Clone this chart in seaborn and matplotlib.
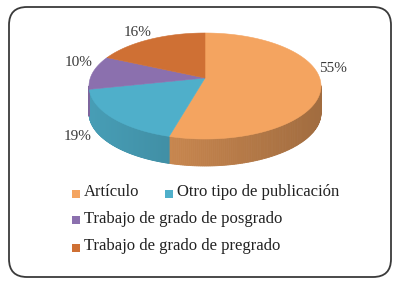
import numpy as np
import matplotlib
matplotlib.use("Agg")
import matplotlib.pyplot as plt
from matplotlib.patches import Polygon, FancyBboxPatch
import seaborn as sns

# --- datos ---
categorias = ["Artículo", "Otro tipo de publicación",
              "Trabajo de grado de posgrado", "Trabajo de grado de pregrado"]
porcentajes = [55, 19, 10, 16]
colores_hex = ["#F4A460", "#4FAFCA", "#8B70AE", "#CF7034"]

# --- estilo ---
sns.set_theme(style="white")
plt.rcParams["font.family"] = ["Liberation Serif", "DejaVu Serif"]
colores = sns.color_palette(colores_hex)

fig = plt.figure(figsize=(4, 2.87), dpi=100)
ax = fig.add_axes([0, 0, 1, 1])
ax.set_xlim(0, 400)
ax.set_ylim(287, 0)
ax.axis("off")

# marco redondeado
marco = FancyBboxPatch((9, 7), 382, 270, boxstyle="round,pad=0,rounding_size=18",
                       facecolor="white", edgecolor="#3a3a3a", linewidth=1.3)
ax.add_patch(marco)

# geometria del pastel 3D
cx, cy, rx, ry, prof = 205, 86, 116, 53, 27
vertice = (cx, cy - 8)


def punto(t):
    return cx + rx * np.cos(t), cy - ry * np.sin(t)


def oscurecer(c, f):
    return tuple(min(1, v * f) for v in c)


acum = np.concatenate([[0], np.cumsum(porcentajes)])
for i, (v, col) in enumerate(zip(porcentajes, colores)):
    a0 = np.deg2rad(90 - 360 * acum[i] / 100)
    a1 = np.deg2rad(90 - 360 * acum[i + 1] / 100)
    ts = np.linspace(a0, a1, 200)

    # cara lateral (solo la parte frontal)
    for t0, t1 in zip(ts[:-1], ts[1:]):
        if np.sin(t0) > 0.001 and np.sin(t1) > 0.001:
            continue
        x0, y0 = punto(t0)
        x1, y1 = punto(t1)
        f = 0.78 - 0.12 * np.cos((t0 + t1) / 2)
        c = oscurecer(col, f)
        ax.add_patch(Polygon([(x0, y0), (x1, y1), (x1, y1 + prof), (x0, y0 + prof)],
                             closed=True, facecolor=c, edgecolor=c, linewidth=0.6, zorder=1))

    # cara superior
    xs, ys = punto(ts)
    pts = [vertice] + list(zip(xs, ys))
    ax.add_patch(Polygon(pts, closed=True, facecolor=col, edgecolor=col,
                         linewidth=0.4, zorder=2))

# etiquetas de porcentaje
pos_etiquetas = [(333, 68), (78, 137), (79, 63), (138, 33)]
for v, (x, y) in zip(porcentajes, pos_etiquetas):
    ax.text(x, y, f"{v}%", ha="center", va="center", fontsize=11, color="#3a3a3a", zorder=3)

# leyenda
pos_leyenda = [(75.5, 193.5), (168.5, 193.5), (75.5, 220), (75.5, 247.5)]
for cat, col, (x, y) in zip(categorias, colores, pos_leyenda):
    ax.scatter([x], [y], marker="s", s=30, color=col, linewidths=0, zorder=3)
    ax.text(x + 8.5, y - 1, cat, ha="left", va="center", fontsize=12, color="#222222")

fig.savefig("out.png", dpi=100)
